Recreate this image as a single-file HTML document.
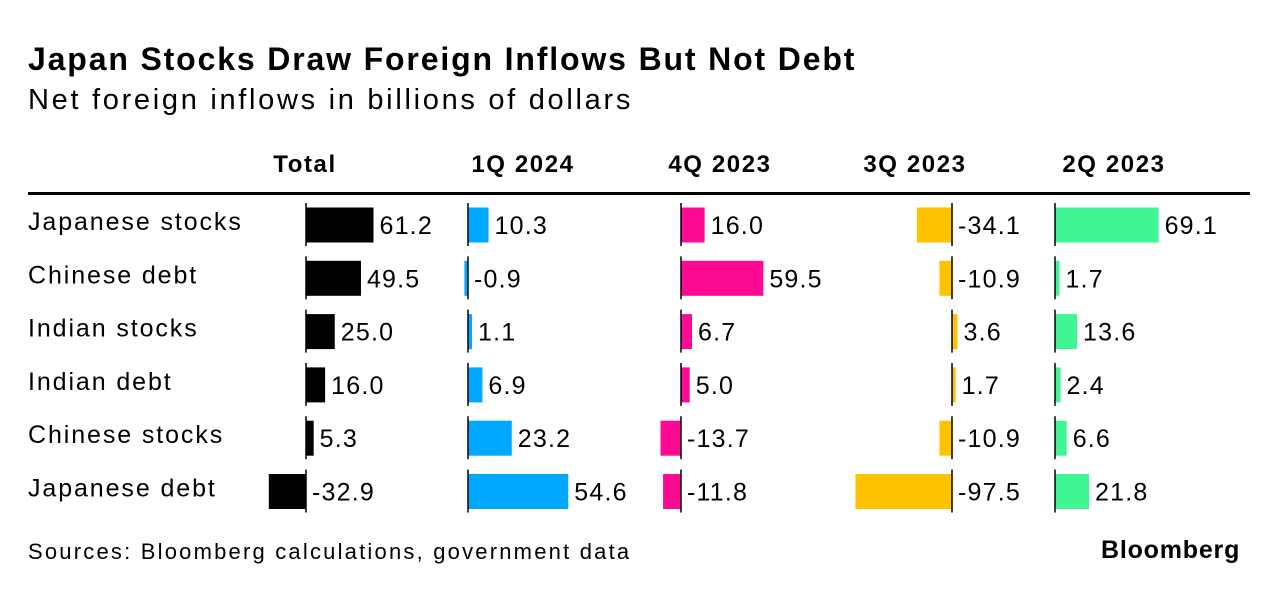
<!DOCTYPE html>
<html><head><meta charset="utf-8"><style>
body{margin:0;background:#fff;font-family:"Liberation Sans",Arial,sans-serif;}
#wrap{position:relative;width:1278px;height:594px;overflow:hidden;}
.t{position:absolute;white-space:nowrap;color:#000;}
</style></head><body>
<div id="wrap">
<div class="t" style="left:28px;top:41px;font-size:32px;font-weight:bold;letter-spacing:1.85px">Japan Stocks Draw Foreign Inflows But Not Debt</div>
<div class="t" style="left:28px;top:84px;font-size:29px;letter-spacing:2.7px">Net foreign inflows in billions of dollars</div>
<div style="position:absolute;left:28px;top:192px;width:1222px;height:3px;background:#000"></div>
<svg id="svg" width="1278" height="594" style="position:absolute;left:0;top:0"></svg>
<div class="t" style="left:28px;top:539px;font-size:22px;letter-spacing:2.2px">Sources: Bloomberg calculations, government data</div>
<div class="t" style="left:1101px;top:536px;font-size:25px;font-weight:bold;letter-spacing:0.8px">Bloomberg</div>
</div>
<script>
const categories=["Japanese stocks","Chinese debt","Indian stocks","Indian debt","Chinese stocks","Japanese debt"];
const columnTitles=["Total","1Q 2024","4Q 2023","3Q 2023","2Q 2023"];
const totalValues=[61.2,49.5,25.0,16.0,5.3,-32.9];
const q1_2024=[10.3,-0.9,1.1,6.9,23.2,54.6];
const q4_2023=[16.0,59.5,6.7,5.0,-13.7,-11.8];
const q3_2023=[-34.1,-10.9,3.6,1.7,-10.9,-97.5];
const q2_2023=[69.1,1.7,13.6,2.4,6.6,21.8];
const series=[totalValues,q1_2024,q4_2023,q3_2023,q2_2023];
const colors=["#000000","#00A8FF","#FF0A93","#FFC100","#40F594"];
const zeros=[306,468,681,952,1055];
const scales=[1.07,1.8,1.35,0.97,1.47];
const headerX=[305,523,720,915,1114];
const NS="http://www.w3.org/2000/svg";
const svg=document.getElementById('svg');
function mk(tag,attrs){const e=document.createElementNS(NS,tag);for(const k in attrs)e.setAttribute(k,attrs[k]);svg.appendChild(e);return e;}
function rowY(i){return 225+i*53.3;}
function xScale(c,v){return zeros[c]+v*scales[c]+(v>=0?2:-2);}
columnTitles.forEach((t,c)=>{
  const e=mk('text',{x:headerX[c],y:172,'font-size':24,'font-weight':'bold','text-anchor':'middle','font-family':'Liberation Sans, Arial, sans-serif','letter-spacing':'1.6'});
  e.textContent=t;
  
  
});
categories.forEach((cat,i)=>{
  const cy=rowY(i);
  const l=mk('text',{x:28,y:cy+5,'font-size':25,'font-family':'Liberation Sans, Arial, sans-serif','letter-spacing':'1.9'});
  l.textContent=cat;
  
  
  series.forEach((vals,c)=>{
    const v=vals[i];const x0=zeros[c];const x1=xScale(c,v);
    const r=mk('rect',{x:Math.min(x0,x1),y:cy-17.5,width:Math.abs(x1-x0),height:35,fill:colors[c]});
    
    
    const ax=mk('line',{x1:x0,x2:x0,y1:cy-22,y2:cy+21,stroke:'#000','stroke-width':1.5});
    
    
    const tx=(v>=0?x1:x0)+6;
    const t=mk('text',{x:tx,y:cy+9,'font-size':25,'font-family':'Liberation Sans, Arial, sans-serif','letter-spacing':'1.2'});
    t.textContent=v.toFixed(1);
    
    
  });
});
</script>
</body></html>
